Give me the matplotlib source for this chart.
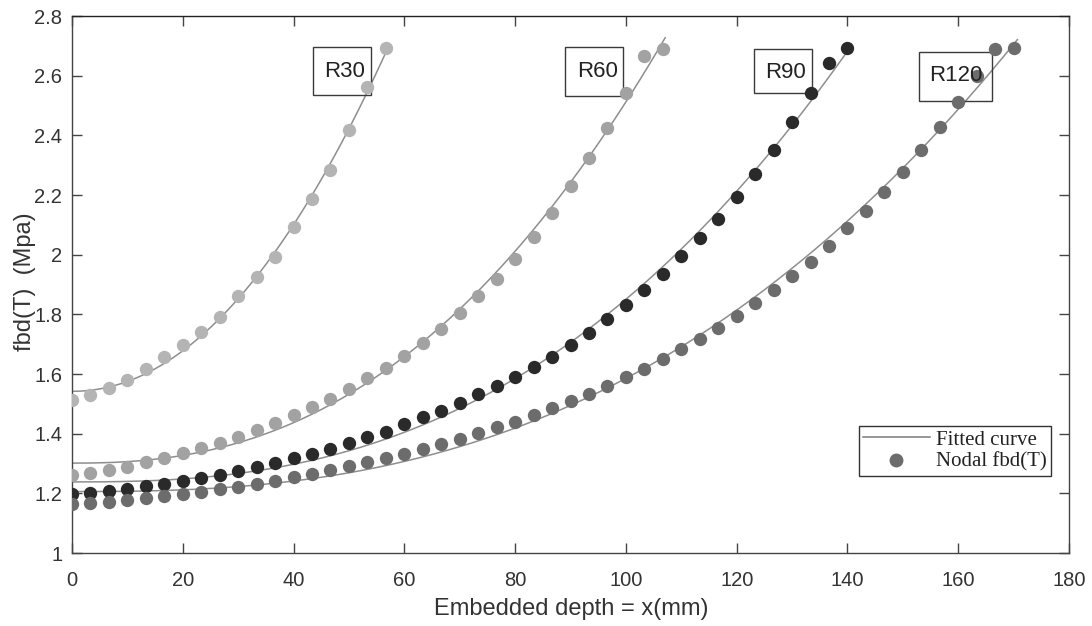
import numpy as np
import matplotlib
matplotlib.use("Agg")
import matplotlib.pyplot as plt
from matplotlib.patches import Rectangle
from matplotlib.ticker import FuncFormatter

# ---------------- data ----------------
node_spacing = 10.0 / 3.0  # mm between nodes

r30 = [1.513, 1.529, 1.553, 1.580, 1.617, 1.657, 1.697, 1.741, 1.792, 1.861,
       1.924, 1.992, 2.092, 2.185, 2.284, 2.418, 2.562, 2.693]
r60 = [1.261, 1.268, 1.278, 1.288, 1.305, 1.318, 1.335, 1.352, 1.369, 1.389,
       1.412, 1.436, 1.462, 1.489, 1.516, 1.550, 1.586, 1.620, 1.660, 1.704,
       1.751, 1.804, 1.861, 1.920, 1.985, 2.059, 2.140, 2.230, 2.324, 2.425,
       2.542, 2.666, 2.689]
r90 = [1.198, 1.201, 1.208, 1.214, 1.224, 1.231, 1.241, 1.251, 1.261, 1.275,
       1.288, 1.302, 1.318, 1.332, 1.348, 1.369, 1.389, 1.405, 1.432, 1.456,
       1.476, 1.503, 1.533, 1.560, 1.590, 1.623, 1.657, 1.697, 1.739, 1.784,
       1.831, 1.881, 1.935, 1.995, 2.056, 2.119, 2.193, 2.270, 2.350, 2.445,
       2.542, 2.642, 2.693]
r120 = [1.164, 1.167, 1.171, 1.177, 1.184, 1.191, 1.198, 1.204, 1.214, 1.221,
        1.231, 1.241, 1.254, 1.265, 1.278, 1.291, 1.305, 1.318, 1.332, 1.348,
        1.365, 1.382, 1.402, 1.422, 1.439, 1.462, 1.486, 1.509, 1.534, 1.560,
        1.590, 1.617, 1.650, 1.684, 1.717, 1.754, 1.796, 1.838, 1.880, 1.928,
        1.977, 2.029, 2.089, 2.146, 2.210, 2.277, 2.351, 2.428, 2.512, 2.599,
        2.689, 2.693]

series_names = ["R30", "R60", "R90", "R120"]
series_values = [r30, r60, r90, r120]
series_colors = ["#b4b4b4", "#a2a2a2", "#2a2a2a", "#6c6c6c"]

# label boxes (data coords): (x0, x1, y0, y1), text position
label_boxes = [(43.5, 54.0, 2.535, 2.696), (89.0, 99.5, 2.532, 2.696),
               (123.1, 133.6, 2.542, 2.689), (152.9, 166.1, 2.515, 2.679)]
label_text_pos = [(49.3, 2.614), (94.8, 2.614), (128.8, 2.612), (159.6, 2.600)]

xticks = [0, 20, 40, 60, 80, 100, 120, 140, 160, 180]
yticks = [1.0, 1.2, 1.4, 1.6, 1.8, 2.0, 2.2, 2.4, 2.6, 2.8]


def power_fit(x, y):
    """least squares fit y = a + b*x^p (flat at x=0), p chosen by grid"""
    best = None
    xs = x / x.max()
    for p in np.arange(1.5, 5.01, 0.01):
        A = np.column_stack([np.ones_like(xs), xs ** p])
        coef, *_ = np.linalg.lstsq(A, y, rcond=None)
        sse = np.sum((A @ coef - y) ** 2)
        if best is None or sse < best[0]:
            best = (sse, p, coef)
    _, p, coef = best
    return lambda xx: coef[0] + coef[1] * (xx / x.max()) ** p


# ---------------- figure ----------------
plt.rcParams['font.family'] = ['Liberation Sans', 'DejaVu Sans']
fig = plt.figure(figsize=(10.92, 6.26), dpi=100)
ax = fig.add_axes([0.0659, 0.1166, 0.9131, 0.8578])

for name, vals, col in zip(series_names, series_values, series_colors):
    y = np.asarray(vals)
    x = np.arange(len(y)) * node_spacing
    f = power_fit(x, y)
    xx = np.linspace(0, x[-1] * 1.004, 300)
    ax.plot(xx, f(xx), color="#8e8e8e", lw=1.1, zorder=2)
    ax.plot(x, y, 'o', ms=9.6, color=col, mec='none', zorder=3)

for (x0, x1, y0, y1), (tx, ty), name in zip(label_boxes, label_text_pos, series_names):
    ax.add_patch(Rectangle((x0, y0), x1 - x0, y1 - y0, fill=False,
                           ec="#3a3a3a", lw=1.0, zorder=2.5))
    ax.text(tx, ty, name, ha='center', va='center', fontsize=16,
            color="#222222", zorder=4)

ax.set_xlim(0, 180)
ax.set_ylim(1, 2.8)
ax.set_xticks(xticks)
ax.set_yticks(yticks)
ax.yaxis.set_major_formatter(FuncFormatter(lambda v, _: f"{v:g}"))
ax.tick_params(direction='in', length=7, width=1, colors="#444444",
               labelcolor="#333333", labelsize=14.5, top=True, right=True)
ax.tick_params(axis='x', pad=13)
ax.tick_params(axis='y', pad=7)
for s in ax.spines.values():
    s.set_color("#444444")
    s.set_linewidth(1.0)
ax.spines['top'].set_color("#222222")

ax.set_xlabel("Embedded depth = x(mm)", fontsize=17, color="#333333")
ax.set_ylabel("fbd(T)  (Mpa)", fontsize=17, color="#333333")
ax.xaxis.set_label_coords(0.5006, -0.084)
ax.yaxis.set_label_coords(-0.036, 0.505)

legend_marker, = ax.plot([], [], 'o', ms=10, color="#6c6c6c", mec='none')
leg_line, = ax.plot([], [], color="#7a7a7a", lw=1.1)
leg = ax.legend([leg_line, legend_marker], ["Fitted curve", "Nodal fbd(T)"],
                loc='upper left', bbox_to_anchor=(0.789, 0.2365),
                prop={'family': 'Liberation Serif', 'size': 15},
                frameon=True, fancybox=False, framealpha=1,
                edgecolor="#333333", borderpad=0.2, labelspacing=0.12,
                handlelength=3.2, handletextpad=0.3, borderaxespad=0)
leg.get_frame().set_linewidth(1.0)
for t in leg.get_texts():
    t.set_color("#222222")

fig.savefig("out.png", dpi=100, facecolor='white')
